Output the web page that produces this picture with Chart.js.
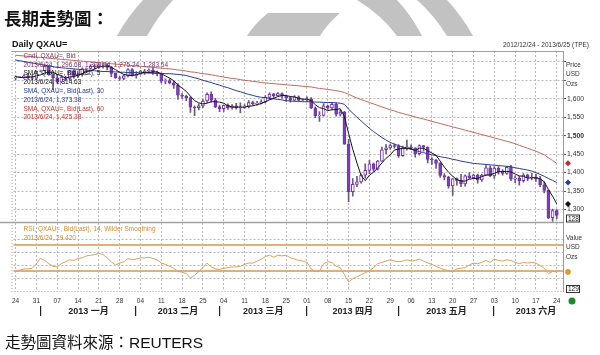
<!DOCTYPE html>
<html>
<head>
<meta charset="utf-8">
<script src="https://cdn.jsdelivr.net/npm/chart.js@4.4.0/dist/chart.umd.min.js"></script>
<style>
  html, body { margin: 0; padding: 0; background: #fff; }
  #lienzo { position: relative; width: 600px; height: 355px; overflow: hidden; }
  #lienzo svg, #lienzo canvas { position: absolute; left: 0; top: 0; }
  .txt { position: absolute; white-space: nowrap; line-height: 1; color: #111; }
  #titulo { left: 4px; top: 5px; font: bold 17.5px "Noto Sans CJK TC", sans-serif; }
  #serie { left: 12px; top: 39px; font: bold 9px "Liberation Sans", Arial, sans-serif; }
  #rango { right: 11px; top: 41px; font: 6.5px "Liberation Sans", Arial, sans-serif; color: #333; }
  #fuente { left: 5px; top: 330px; font: 15.5px "Liberation Sans", "Noto Sans CJK TC", sans-serif; }
</style>
</head>
<body>
<div id="lienzo">
  <svg width="600" height="355">
    <g fill="#c2c2c2">
      <path d="M117 36 L147 36 Q158 16 173 0 L143 0 Q128 16 117 36 Z"/>
      <path d="M247 36 Q256 22 268 13 L340 13 Q328 23 320 36 Z"/>
      <path d="M357 0 L397 0 Q412 16 422 36 L397 36 Q383 16 357 0 Z"/>
      <path d="M417 0 L447 0 Q462 16 473 36 L447 36 Q435 16 417 0 Z"/>
    </g>
    <circle cx="572" cy="301" r="3.5" fill="#1a8c2a"/>
  </svg>
  <canvas id="grafico-oro" width="600" height="355"></canvas>
  <div class="txt" id="titulo">長期走勢圖：</div>
  <div class="txt" id="serie">Daily QXAU=</div>
  <div class="txt" id="rango">2012/12/24 - 2013/6/25 (TPE)</div>
  <div class="txt" id="fuente">走勢圖資料來源：REUTERS</div>
</div>
<script>
// Fechas hábiles (una por vela), la última sin dato
const fechas = [
  '2012-12-24','2012-12-25','2012-12-26','2012-12-27','2012-12-28',
  '2012-12-31','2013-01-01','2013-01-02','2013-01-03','2013-01-04',
  '2013-01-07','2013-01-08','2013-01-09','2013-01-10','2013-01-11',
  '2013-01-14','2013-01-15','2013-01-16','2013-01-17','2013-01-18',
  '2013-01-21','2013-01-22','2013-01-23','2013-01-24','2013-01-25',
  '2013-01-28','2013-01-29','2013-01-30','2013-01-31','2013-02-01',
  '2013-02-04','2013-02-05','2013-02-06','2013-02-07','2013-02-08',
  '2013-02-11','2013-02-12','2013-02-13','2013-02-14','2013-02-15',
  '2013-02-18','2013-02-19','2013-02-20','2013-02-21','2013-02-22',
  '2013-02-25','2013-02-26','2013-02-27','2013-02-28','2013-03-01',
  '2013-03-04','2013-03-05','2013-03-06','2013-03-07','2013-03-08',
  '2013-03-11','2013-03-12','2013-03-13','2013-03-14','2013-03-15',
  '2013-03-18','2013-03-19','2013-03-20','2013-03-21','2013-03-22',
  '2013-03-25','2013-03-26','2013-03-27','2013-03-28','2013-03-29',
  '2013-04-01','2013-04-02','2013-04-03','2013-04-04','2013-04-05',
  '2013-04-08','2013-04-09','2013-04-10','2013-04-11','2013-04-12',
  '2013-04-15','2013-04-16','2013-04-17','2013-04-18','2013-04-19',
  '2013-04-22','2013-04-23','2013-04-24','2013-04-25','2013-04-26',
  '2013-04-29','2013-04-30','2013-05-01','2013-05-02','2013-05-03',
  '2013-05-06','2013-05-07','2013-05-08','2013-05-09','2013-05-10',
  '2013-05-13','2013-05-14','2013-05-15','2013-05-16','2013-05-17',
  '2013-05-20','2013-05-21','2013-05-22','2013-05-23','2013-05-24',
  '2013-05-27','2013-05-28','2013-05-29','2013-05-30','2013-05-31',
  '2013-06-03','2013-06-04','2013-06-05','2013-06-06','2013-06-07',
  '2013-06-10','2013-06-11','2013-06-12','2013-06-13','2013-06-14',
  '2013-06-17','2013-06-18','2013-06-19','2013-06-20','2013-06-21',
  '2013-06-24','2013-06-25'
];

const apertura = [
  1657,1659,1660,1662,1657, 1656,1675,1676,1688,1665, 1657,1646,1659,1655,1676,
  1662,1667,1681,1682,1688, 1687,1691,1692,1685,1669, 1657,1655,1662,1679,1663,
  1667,1673,1675,1677,1671, 1667,1648,1649,1643,1637, 1610,1607,1603,1577,1576,
  1581,1594,1612,1596,1578, 1573,1582,1575,1581,1576, 1577,1579,1590,1587,1588,
  1592,1604,1613,1608,1614, 1607,1603,1596,1605,1596, 1597,1600,1575,1554,1555,
  1581,1575,1585,1558,1564, 1477,1348,1368,1375,1393, 1406,1424,1409,1431,1462,
  1467,1473,1471,1446,1467, 1470,1467,1451,1473,1469, 1436,1434,1425,1392,1388,
  1364,1383,1379,1369,1391, 1386,1393,1380,1393,1413, 1391,1412,1402,1398,1414,
  1382,1385,1378,1393,1386, 1388,1383,1367,1352,1278, 1297
];
const maximo = [
  1662,1661,1665,1669,1665, 1676,1678,1693,1690,1666, 1664,1662,1661,1677,1679,
  1670,1683,1684,1693,1693, 1695,1697,1694,1688,1670, 1661,1665,1682,1682,1674,
  1677,1680,1681,1685,1675, 1668,1654,1654,1647,1641, 1614,1610,1605,1581,1586,
  1598,1616,1619,1601,1583, 1582,1586,1584,1588,1589, 1584,1595,1594,1593,1597,
  1609,1616,1615,1617,1616, 1610,1606,1609,1608,1599, 1605,1603,1578,1565,1587,
  1582,1588,1590,1571,1566, 1490,1384,1390,1396,1424, 1433,1426,1433,1469,1476,
  1477,1478,1476,1472,1488, 1475,1467,1475,1474,1470, 1441,1436,1427,1397,1390,
  1384,1386,1395,1394,1400, 1396,1396,1396,1419,1418, 1416,1416,1408,1417,1420,
  1391,1390,1397,1396,1398, 1396,1390,1375,1353,1301, 1300
];
const minimo = [
  1651,1657,1656,1654,1651, 1654,1673,1674,1664,1625, 1644,1644,1649,1650,1656,
  1657,1661,1672,1680,1680, 1682,1683,1678,1660,1655, 1650,1652,1659,1661,1656,
  1666,1666,1670,1666,1662, 1643,1640,1640,1628,1598, 1601,1595,1563,1554,1570,
  1576,1590,1591,1576,1565, 1566,1571,1572,1572,1562, 1574,1575,1583,1583,1586,
  1589,1598,1603,1607,1602, 1593,1591,1594,1593,1594, 1592,1573,1549,1539,1553,
  1571,1571,1553,1553,1476, 1321,1336,1362,1371,1385, 1397,1403,1407,1430,1451,
  1463,1466,1441,1444,1461, 1462,1442,1447,1458,1426, 1422,1411,1387,1380,1358,
  1338,1366,1362,1363,1384, 1384,1371,1376,1393,1389, 1384,1396,1393,1395,1378,
  1373,1366,1374,1378,1380, 1376,1362,1345,1275,1268, 1275
];
const cierre = [
  1659,1660,1662,1657,1656, 1675,1676,1688,1665,1657, 1646,1659,1655,1676,1662,
  1667,1681,1682,1688,1687, 1691,1692,1685,1669,1657, 1655,1662,1679,1663,1667,
  1675,1675,1677,1671,1667, 1648,1649,1643,1637,1610, 1607,1603,1577,1576,1581,
  1594,1612,1596,1578,1573, 1582,1575,1581,1576,1577, 1579,1590,1587,1588,1592,
  1604,1613,1608,1614,1607, 1603,1596,1605,1596,1597, 1600,1575,1554,1555,1581,
  1575,1585,1558,1564,1477, 1348,1368,1375,1393,1406, 1424,1409,1431,1462,1467,
  1473,1471,1446,1467,1470, 1467,1451,1473,1469,1436, 1434,1425,1392,1388,1364,
  1383,1379,1369,1391,1386, 1393,1380,1393,1413,1391, 1412,1402,1398,1414,1382,
  1385,1378,1393,1386,1388, 1383,1367,1352,1278,1297, 1284
];

const sma5 = [
  1660,1658,1657,1659,1659, 1662,1665,1670,1672,1672, 1666,1663,1656,1659,1660,
  1664,1668,1674,1676,1681, 1686,1688,1689,1685,1679, 1672,1666,1664,1663,1665,
  1669,1672,1671,1673,1673, 1668,1662,1656,1649,1637, 1629,1620,1607,1595,1589,
  1586,1588,1592,1592,1591, 1588,1581,1578,1577,1578, 1577,1580,1581,1584,1587,
  1592,1597,1601,1606,1609, 1609,1606,1605,1601,1599, 1599,1595,1584,1576,1573,
  1568,1570,1571,1573,1552, 1506,1463,1426,1392,1378, 1393,1401,1413,1426,1439,
  1448,1461,1464,1465,1466, 1465,1460,1466,1466,1459, 1453,1447,1431,1415,1401,
  1390,1381,1377,1377,1382, 1384,1384,1389,1393,1394, 1398,1402,1403,1403,1402,
  1396,1391,1390,1385,1386, 1386,1383,1375,1354,1336, 1315
];
const sma30 = [
  1705,1703,1701,1699,1697, 1695,1693,1691,1689,1687, 1685,1684,1683,1682,1681,
  1680,1679,1678,1677,1676, 1675,1674,1674,1673,1673, 1672,1672,1671,1671,1671,
  1670,1670,1670,1669,1669, 1669,1668,1668,1667,1666, 1665,1663,1660,1657,1654,
  1650,1647,1644,1640,1637, 1633,1630,1626,1622,1619, 1615,1612,1609,1606,1604,
  1603,1601,1600,1598,1597, 1595,1594,1593,1593,1592, 1592,1592,1591,1591,1590,
  1590,1590,1589,1588,1585, 1572,1561,1550,1540,1530, 1520,1511,1503,1495,1488,
  1482,1477,1473,1469,1466, 1463,1460,1457,1454,1451, 1448,1446,1443,1441,1439,
  1436,1434,1431,1429,1427, 1425,1424,1423,1422,1421, 1420,1419,1418,1417,1416,
  1413,1411,1409,1407,1404, 1400,1395,1390,1384,1379, 1373
];
const sma60 = [
  1718,1717,1716,1715,1714, 1713,1712,1711,1710,1709, 1708,1707,1706,1705,1704,
  1703,1702,1701,1700,1699, 1698,1697,1696,1695,1694, 1693,1692,1691,1690,1689,
  1688,1687,1686,1685,1684, 1683,1682,1681,1680,1678, 1677,1675,1673,1672,1670,
  1668,1667,1665,1663,1661, 1659,1657,1655,1654,1652, 1650,1649,1647,1646,1644,
  1643,1642,1641,1640,1639, 1638,1637,1636,1635,1634, 1633,1632,1630,1628,1627,
  1625,1624,1622,1620,1617, 1612,1607,1602,1598,1594, 1590,1586,1582,1578,1574,
  1570,1567,1563,1560,1557, 1554,1551,1548,1545,1542, 1539,1536,1533,1530,1527,
  1524,1521,1518,1515,1512, 1509,1506,1503,1500,1497, 1494,1491,1488,1485,1482,
  1478,1474,1470,1466,1462, 1458,1453,1448,1440,1433, 1425
];
const rsi14 = [
  30,32,34,34,35, 42,50,47,42,38, 37,42,45,48,47,
  50,51,54,55,56, 58,56,51,45,40, 43,45,50,48,49,
  51,51,52,50,48, 43,41,38,35,30, 29,27,20,24,30,
  36,43,37,34,33, 35,36,37,37,38, 41,43,43,46,49,
  53,55,52,55,54, 55,51,49,47,46, 44,34,30,31,42,
  45,44,38,36,25, 14,19,22,25,28, 31,36,42,44,46,
  48,46,45,46,48, 46,47,49,46,43, 41,38,35,33,31,
  30,34,35,36,40, 43,42,44,47,44, 49,47,46,48,47,
  44,42,44,43,44, 43,39,35,27,30, 29.4
];

const marcasPrecio = [1300, 1350, 1400, 1450, 1500, 1550, 1600, 1650, 1700];
const marcasRsi = [20, 40, 60, 80];
const nivelesRsi = [30, 70];
const meses = ['2013 一月', '2013 二月', '2013 三月', '2013 四月', '2013 五月', '2013 六月'];
const iniciosMes = ['2013-01-01', '2013-02-01', '2013-03-01', '2013-04-01', '2013-05-01', '2013-06-03'];

const FUENTE = '"Liberation Sans", Arial, sans-serif';

// Velas: mecha (mínimo-máximo) y cuerpo (apertura-cierre) como barras flotantes
const mechas = minimo.map((l, i) => [l, maximo[i]]);
const cuerpos = apertura.map((o, i) => [o, cierre[i]]);

function linea(ctx, x1, y1, x2, y2) {
    ctx.beginPath();
    ctx.moveTo(x1, y1);
    ctx.lineTo(x2, y2);
    ctx.stroke();
}

function rombo(ctx, x, y, r, color) {
    ctx.fillStyle = color;
    ctx.beginPath();
    ctx.moveTo(x, y - r);
    ctx.lineTo(x + r, y);
    ctx.lineTo(x, y + r);
    ctx.lineTo(x - r, y);
    ctx.closePath();
    ctx.fill();
}

const panelesPlugin = {
    id: 'paneles',
    beforeDatasetsDraw(chart) {
        const { ctx, chartArea: a, scales: { yR } } = chart;
        ctx.save();
        // rejilla del panel RSI
        ctx.strokeStyle = '#b8b8b8';
        ctx.lineWidth = 1;
        ctx.setLineDash([2, 2]);
        marcasRsi.forEach(v => {
            const y = Math.round(yR.getPixelForValue(v)) + 0.5;
            linea(ctx, a.left, y, a.right, y);
        });
        ctx.setLineDash([]);
        // niveles 30 / 70
        ctx.strokeStyle = '#ddb27a';
        ctx.lineWidth = 2;
        nivelesRsi.forEach(v => {
            const y = Math.round(yR.getPixelForValue(v));
            linea(ctx, a.left, y, a.right, y);
        });
        ctx.restore();
    },
    afterDraw(chart) {
        const { ctx, chartArea: a, scales: { x, yP, yR } } = chart;
        ctx.save();

        // marco de los paneles
        const ySep = Math.round(yP.getPixelForValue(1266)) + 0.5;
        ctx.strokeStyle = '#a0a0a0';
        ctx.lineWidth = 1;
        linea(ctx, a.left - 2, a.top + 0.5, a.right, a.top + 0.5);
        ctx.lineWidth = 1.5;
        linea(ctx, 0, ySep, a.right, ySep);
        ctx.lineWidth = 1;
        ctx.setLineDash([1, 2]);
        linea(ctx, a.left - 1.5, a.top, a.left - 1.5, a.bottom);
        linea(ctx, a.left - 2, a.bottom + 0.5, a.right, a.bottom + 0.5);
        ctx.setLineDash([]);

        // leyendas
        ctx.textBaseline = 'middle';
        ctx.textAlign = 'left';
        ctx.font = '6.5px ' + FUENTE;
        const filas = [
            ['Cndl, QXAU=, Bid', '#7a2f63'],
            ['2013/6/24, 1,296.68, 1,300.34, 1,275.24, 1,283.54', '#7a2f63'],
            ['SMA, QXAU=, Bid(Last), 5', '#111111'],
            ['2013/6/24, 1,314.63', '#111111'],
            ['SMA, QXAU=, Bid(Last), 30', '#2338a0'],
            ['2013/6/24, 1,373.38', '#2338a0'],
            ['SMA, QXAU=, Bid(Last), 60', '#c0332e'],
            ['2013/6/24, 1,425.38', '#c0332e']
        ];
        filas.forEach((f, k) => {
            ctx.fillStyle = f[1];
            ctx.fillText(f[0], a.left + 10, a.top + 5 + k * 8.8);
        });
        ctx.fillStyle = '#d08a2c';
        ctx.fillText('RSI, QXAU=, Bid(Last), 14, Wilder Smoothing', a.left + 10, ySep + 6.5);
        ctx.fillText('2013/6/24, 29.420', a.left + 10, ySep + 15.5);

        // textos del eje derecho
        ctx.fillStyle = '#333';
        ctx.font = '6.5px ' + FUENTE;
        ['Price', 'USD', 'Ozs'].forEach((t, k) => ctx.fillText(t, a.right + 3, a.top + 14 + k * 9.5));
        ['Value', 'USD', 'Ozs'].forEach((t, k) => ctx.fillText(t, a.right + 3, ySep + 15.5 + k * 9.5));

        // marcadores del último valor
        const n = cierre.length - 1;
        const xm = a.right + 5;
        rombo(ctx, xm, yP.getPixelForValue(sma60[n]), 3, '#c0282d');
        rombo(ctx, xm, yP.getPixelForValue(sma30[n]), 3, '#1f3c99');
        rombo(ctx, xm, yP.getPixelForValue(sma5[n]), 3, '#111');
        ctx.fillStyle = '#e0962e';
        ctx.beginPath();
        ctx.arc(xm, yR.getPixelForValue(rsi14[n]), 2.8, 0, Math.PI * 2);
        ctx.fill();

        // etiquetas en recuadro
        ctx.font = '6.5px ' + FUENTE;
        ctx.strokeStyle = '#333';
        ctx.fillStyle = '#fff';
        const yc = ySep - 4;
        ctx.fillRect(a.right + 3, yc - 4, 14, 8);
        ctx.strokeRect(a.right + 3.5, yc - 3.5, 13, 7);
        ctx.fillStyle = '#222';
        ctx.fillText('128', a.right + 5, yc + 0.5);
        const yb = a.bottom - 2;
        ctx.fillStyle = '#fff';
        ctx.fillRect(a.right + 3, yb - 4, 14, 8);
        ctx.strokeRect(a.right + 3.5, yb - 3.5, 13, 7);
        ctx.fillStyle = '#222';
        ctx.fillText('129', a.right + 5, yb + 0.5);

        // meses bajo el eje
        const paso = x.getPixelForValue(1) - x.getPixelForValue(0);
        const yMes = a.bottom + 20;
        ctx.font = 'bold 9px "Liberation Sans", "Noto Sans CJK TC", sans-serif';
        ctx.textAlign = 'center';
        iniciosMes.forEach((f, k) => {
            const xs = x.getPixelForValue(fechas.indexOf(f));
            const xe = k < iniciosMes.length - 1
                ? x.getPixelForValue(fechas.indexOf(iniciosMes[k + 1]))
                : x.getPixelForValue(fechas.length - 1) + 4 * paso;
            ctx.fillStyle = '#222';
            ctx.fillRect(Math.round(xs) - 1, yMes - 5, 1.2, 10);
            ctx.fillText(meses[k], (xs + xe) / 2, yMes + 0.5);
        });
        ctx.restore();
    }
};

const ctx = document.getElementById('grafico-oro').getContext('2d');
new Chart(ctx, {
    type: 'bar',
    data: {
        labels: fechas,
        datasets: [
            { type: 'line', label: 'SMA 5', data: sma5, yAxisID: 'yP', borderColor: '#151515', borderWidth: 1, pointRadius: 0, order: 0 },
            { type: 'line', label: 'SMA 30', data: sma30, yAxisID: 'yP', borderColor: '#2a3c8c', borderWidth: 1, pointRadius: 0, order: 0 },
            { type: 'line', label: 'SMA 60', data: sma60, yAxisID: 'yP', borderColor: '#bd6a5c', borderWidth: 1, pointRadius: 0, order: 0 },
            { type: 'line', label: 'RSI 14', data: rsi14, yAxisID: 'yR', borderColor: '#d6a25c', borderWidth: 1, pointRadius: 0, order: 0 },
            {
                label: 'Cuerpo', data: cuerpos, yAxisID: 'yP',
                backgroundColor: c => cierre[c.dataIndex] < apertura[c.dataIndex] ? '#7d3fbf' : '#ffffff',
                borderColor: '#6d35a8', borderWidth: 1, borderSkipped: false,
                barThickness: 3, grouped: false, order: 1
            },
            {
                label: 'Mecha', data: mechas, yAxisID: 'yP',
                backgroundColor: '#6a5680', barThickness: 1, grouped: false, order: 2
            }
        ]
    },
    options: {
        responsive: false,
        animation: false,
        devicePixelRatio: 1,
        layout: { padding: { left: 13.5, right: 0, top: 51, bottom: 48 } },
        plugins: { legend: { display: false }, tooltip: { enabled: false } },
        scales: {
            x: {
                type: 'category',
                offset: true,
                grid: { color: '#b8b8b8', lineWidth: 1, drawTicks: false, offset: false },
                border: { display: false, dash: [2, 2] },
                ticks: {
                    autoSkip: false, maxRotation: 0, padding: 6, color: '#333',
                    font: { size: 6.5, family: FUENTE },
                    callback: (v, i) => {
                        const f = fechas[i];
                        return new Date(f + 'T00:00:00Z').getUTCDay() === 1 ? f.slice(8) : null;
                    }
                },
                afterFit: s => { s.height = 16; }
            },
            yP: {
                position: 'right',
                min: 1079.1,
                max: 1729.5,
                afterBuildTicks: s => { s.ticks = marcasPrecio.map(v => ({ value: v })); },
                grid: { color: '#b8b8b8', lineWidth: 1, drawTicks: true, tickLength: 3, tickColor: '#555' },
                border: { display: true, color: '#9a9a9a', dash: [2, 2] },
                ticks: {
                    padding: 1, color: '#333',
                    font: c => ({ size: 6.8, family: FUENTE, weight: c.tick && c.tick.value === 1500 ? 'bold' : 'normal' }),
                    callback: v => v <= 1600 ? v.toLocaleString('en-US') : ''
                },
                afterFit: s => { s.width = 37; }
            },
            yR: { display: false, min: 0, max: 369.2 }
        }
    },
    plugins: [panelesPlugin]
});
</script>
</body>
</html>
